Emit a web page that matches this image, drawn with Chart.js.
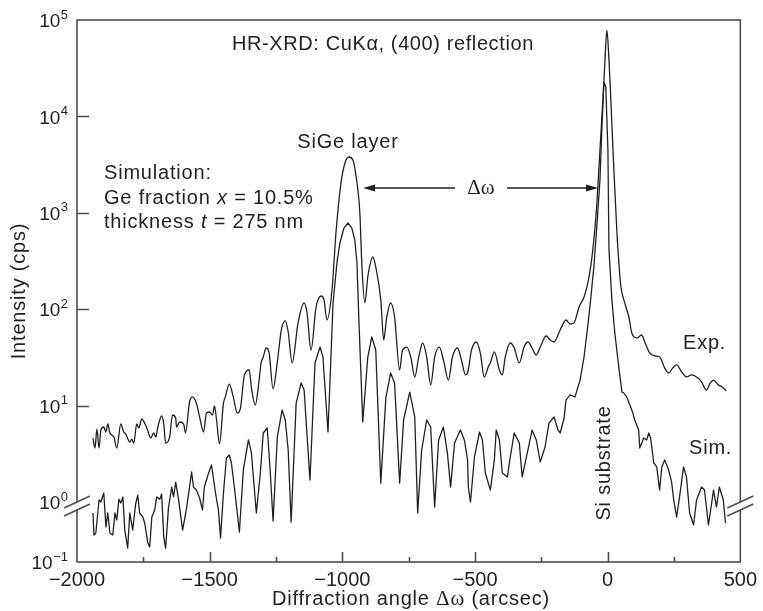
<!DOCTYPE html>
<html>
<head>
<meta charset="utf-8">
<script src="https://cdn.jsdelivr.net/npm/chart.js@4.4.1/dist/chart.umd.min.js"></script>
<style>
  html, body { margin: 0; padding: 0; background: #fff; }
</style>
</head>
<body>
<canvas id="xrdChart" width="763" height="611"></canvas>
<script>
// measured curve (Exp.) - angle in arcsec, intensity in cps
const expAngle = [-1940,-1932,-1925,-1917,-1910,-1899,-1891,-1884,-1876,-1861,-1850,-1835,-1824,-1816,-1801,-1794,-1786,-1775,-1767,-1756,
  -1737,-1722,-1711,-1703,-1696,-1681,-1673,-1666,-1651,-1640,-1628,-1625,-1613,-1598,-1591,-1576,-1565,-1550,-1538,-1523,
  -1512,-1501,-1489,-1482,-1474,-1463,-1448,-1441,-1426,-1411,-1396,-1384,-1369,-1351,-1343,-1328,-1317,-1306,-1298,-1287,
  -1276,-1261,-1245,-1230,-1215,-1204,-1189,-1167,-1144,-1133,-1118,-1099,-1080,-1069,-1058,-1039,-1024,-1005,-990,-975,
  -960,-949,-934,-926,-915,-904,-885,-874,-855,-844,-833,-818,-803,-784,-773,-757,-742,-727,-712,-697,
  -682,-667,-652,-634,-619,-600,-585,-566,-551,-536,-528,-513,-495,-480,-465,-450,-442,-427,-408,-397,
  -386,-367,-352,-333,-315,-300,-285,-269,-254,-232,-217,-202,-179,-157,-142,-127,-108,-89,-74,-63,
  -52,-41,-29,-18,-10,-3,5,12,23,35,42,50,61,80,91,110,128,140,158,177,
  196,215,230,245,260,279,297,316,335,354,372,387,399,417,432,447];
const expIntensity = [4.61,3.63,5.72,3.63,5.58,6.0,5.32,6.44,5.2,4.72,3.63,6.44,5.32,5.07,4.19,4.5,4.09,6.44,5.86,7.26,
  5.86,4.61,5.2,4.72,5.86,7.8,6.44,4.09,4.72,7.99,7.44,6.0,6.76,6.44,5.2,10.9,12.3,10.6,7.62,5.32,
  8.38,8.58,7.99,9.9,7.09,4.0,10.6,12.3,16.7,12.3,8.38,9.44,20.8,23.4,15.6,10.1,15.2,27.7,31.9,39.6,
  35.2,14.9,28.3,60.8,75.5,58,27.7,71.9,116,91.4,37.7,105,137,125,77.3,158,617,2040,3290,3790,
  3530,2470,995,274,116,216,348,274,125,47.9,81.1,116,83,23.4,37.7,40.5,31.9,19.8,31.9,44.6,
  31.9,16.4,31.9,40.5,29.7,18.4,31.9,39.6,29.7,20.8,21.8,37.7,45.7,35.2,19.8,25.1,27.7,36,23.4,20.8,
  31.9,44.6,39.6,27.7,40.5,45.7,39.6,33.5,40.5,52.7,47.9,45.7,60.8,77.3,70.2,71.9,105,134,191,288,
  522,1205,4480,14800,38500,78700,38500,14800,2990,617,309,170,125,83,56.6,50.3,54,45.7,35.2,32.7,
  31.9,24.5,21.8,24.5,26.4,22.3,19.8,20.8,19.8,17.6,14.5,17.2,18.4,16.4,15.6,14.2];

// simulated curve (Sim.)
const simAngle = [-1940,-1936,-1929,-1917,-1910,-1899,-1891,-1884,-1876,-1865,-1857,-1850,-1842,-1835,-1827,-1820,-1809,-1801,-1790,-1779,
  -1771,-1764,-1752,-1745,-1733,-1726,-1718,-1707,-1700,-1688,-1681,-1673,-1666,-1655,-1643,-1636,-1628,-1617,-1602,-1587,
  -1576,-1568,-1561,-1550,-1538,-1527,-1520,-1504,-1493,-1478,-1467,-1459,-1448,-1437,-1426,-1418,-1407,-1388,-1373,-1354,
  -1343,-1324,-1309,-1298,-1283,-1272,-1261,-1245,-1227,-1215,-1204,-1193,-1174,-1155,-1144,-1122,-1103,-1084,-1073,-1054,
  -1035,-1020,-1009,-994,-979,-964,-953,-945,-938,-923,-904,-889,-874,-855,-836,-818,-803,-784,-769,-746,-727,-716,-701,-682,
  -667,-652,-637,-619,-604,-592,-577,-555,-540,-528,-525,-517,-502,-483,-472,-461,-442,-427,-420,-408,
  -397,-378,-367,-352,-333,-322,-303,-285,-269,-254,-236,-221,-202,-187,-179,-164,-157,-142,-123,-104,
  -89,-78,-67,-52,-41,-29,-22,-14,-7,1,5,16,27,42,54,61,72,84,95,102,
  117,121,136,147,155,162,174,185,196,204,215,230,241,249,260,271,286,297,309,324,
  335,354,365,380,399,410,421,436,444];
const simIntensity = [0.656,0.282,0.304,1.05,1.0,1.24,0.383,0.656,0.304,0.282,0.656,0.501,1.07,0.962,1.13,0.341,0.171,0.656,0.341,0.926,
  1.18,0.656,0.562,0.447,0.207,0.178,0.562,0.736,1.13,1.07,1.21,0.261,0.171,0.825,1.43,1.13,1.61,1.05,0.341,0.794,
  1.43,2.05,1.43,1.33,1.10,0.736,1.43,2.0,2.42,1.24,0.736,0.251,1.24,2.86,3.07,2.54,1.43,0.316,2.15,4.4,
  3.3,0.656,2.0,5.2,5.86,2.15,0.482,4.72,9.0,7.09,3.46,0.464,10.6,17.2,14.5,1.69,27.7,40.5,31.9,5.32,
  116,309,486,695,784,695,522,309,83,6.76,31.9,51.5,37.7,1.57,12.0,21.8,17.2,1.57,7.09,13.8,7.62,0.656,3.46,7.09,
  6.0,0.825,4.4,6.0,3.22,1.43,4.09,5.58,4.4,2.73,1.43,1.0,2.93,5.32,4.4,2.0,1.33,2.73,5.58,4.4,
  2.0,1.82,2.93,5.2,4.09,1.82,3.22,5.58,4.4,2.6,3.72,6.6,7.62,5.58,5.2,7.44,11.4,12.9,12.3,18.4,
  31.9,56.6,105,274,713,2190,7230,22700,20200,4480,411,125,56.6,25.1,13.8,13.5,12.3,10.1,8.38,7.09,
  5.58,3.63,4.61,4.4,5.2,4.61,2.54,2.31,1.33,2.31,2.73,2.15,1.61,1.05,0.562,1.13,2.31,1.82,0.656,0.414,
  1.05,1.43,1.33,0.414,1.33,0.825,1.43,1.05,0.447];

const xTicks = [-2000, -1500, -1000, -500, 0, 500];
const yTicks = [0.1, 1, 10, 100, 1000, 10000, 100000];

const INK = "#231f20";
const FRAME = "#4d4d4d";
const SANS = "'Liberation Sans', Arial, sans-serif";
const SERIF = "'Liberation Serif', 'Times New Roman', serif";

// log axis with the 0.1..1 decade squeezed below a break
class BrokenLogScale extends Chart.LogarithmicScale {
  getPixelForValue(value) {
    const v = value === undefined || value <= 0 ? this.min : value;
    const lg = Math.log10(v);
    const b = this.options.breakFraction;
    const dec = lg >= 0
      ? b + (1 - b) * lg / Math.log10(this.max)
      : b * (1 - lg / Math.log10(this.min));
    return this.getPixelForDecimal(dec);
  }
  getValueForPixel(pixel) {
    const dec = this.getDecimalForPixel(pixel);
    const b = this.options.breakFraction;
    const lg = dec >= b
      ? (dec - b) / (1 - b) * Math.log10(this.max)
      : (1 - dec / b) * Math.log10(this.min);
    return Math.pow(10, lg);
  }
}
BrokenLogScale.id = "brokenLog";
BrokenLogScale.defaults = Chart.LogarithmicScale.defaults;
Chart.register(BrokenLogScale);

function toPoints(xs, ys) {
  return xs.map((a, i) => ({ x: a, y: ys[i] }));
}

// draws text piece by piece (needed for italic / serif parts)
function drawRuns(ctx, runs, x, y, align) {
  let total = 0;
  runs.forEach(r => { ctx.font = r.font; total += ctx.measureText(r.text).width; });
  let cx = align === "center" ? x - total / 2 : x;
  ctx.textAlign = "left";
  runs.forEach(r => {
    ctx.font = r.font;
    ctx.fillText(r.text, cx, y);
    cx += ctx.measureText(r.text).width;
  });
}

const decorations = {
  id: "decorations",
  afterDraw(chart) {
    const { ctx, chartArea: a, scales: { x, y } } = chart;
    ctx.save();

    // frame + inward ticks
    ctx.strokeStyle = FRAME;
    ctx.lineWidth = 1.6;
    ctx.strokeRect(a.left, a.top, a.right - a.left, a.bottom - a.top);
    ctx.beginPath();
    for (let v = -1750; v < 500; v += 250) {
      const px = Math.round(x.getPixelForValue(v)) + 0.5;
      const len = v % 500 === 0 ? 10 : 5;
      ctx.moveTo(px, a.bottom);
      ctx.lineTo(px, a.bottom - len);
    }
    yTicks.slice(2, 6).forEach(v => {
      const py = Math.round(y.getPixelForValue(v)) + 0.5;
      ctx.moveTo(a.left, py);
      ctx.lineTo(a.left + 12, py);
    });
    ctx.stroke();

    // axis break marks at 10^0
    const by = y.getPixelForValue(1) + 4;
    [a.left, a.right].forEach(bx => {
      const dx = 13, dy = 6, g = 4;
      ctx.fillStyle = "#fff";
      ctx.beginPath();
      ctx.moveTo(bx - dx, by + dy - g);
      ctx.lineTo(bx + dx, by - dy - g);
      ctx.lineTo(bx + dx, by - dy + g);
      ctx.lineTo(bx - dx, by + dy + g);
      ctx.closePath();
      ctx.fill();
      ctx.beginPath();
      ctx.moveTo(bx - dx, by + dy - g);
      ctx.lineTo(bx + dx, by - dy - g);
      ctx.moveTo(bx - dx, by + dy + g);
      ctx.lineTo(bx + dx, by - dy + g);
      ctx.lineWidth = 1.4;
      ctx.stroke();
    });

    // y tick labels 10^n
    ctx.fillStyle = INK;
    ctx.textBaseline = "middle";
    yTicks.forEach(v => {
      const py = y.getPixelForValue(v);
      const ex = String(Math.round(Math.log10(v))).replace("-", "\u2212");
      ctx.textAlign = "right";
      ctx.font = "13px " + SANS;
      ctx.fillText(ex, 68, py - 5);
      const w = ctx.measureText(ex).width;
      ctx.font = "19px " + SANS;
      ctx.fillText("10", 67.5 - w, py + 2);
    });

    // annotations
    ctx.letterSpacing = "0.6px";
    const f = "20px " + SANS;
    const fi = "italic 20px " + SANS;
    ctx.textAlign = "left";
    ctx.font = f;
    ctx.fillText("HR-XRD: CuK\u03b1, (400) reflection", 232, 44);
    ctx.letterSpacing = "0.8px";
    ctx.textAlign = "center";
    ctx.fillText("SiGe layer", 348, 142);
    ctx.textAlign = "left";
    ctx.fillText("Simulation:", 104, 173);
    drawRuns(ctx, [{ text: "Ge fraction ", font: f }, { text: "x", font: fi }, { text: " = 10.5%", font: f }], 104, 198);
    drawRuns(ctx, [{ text: "thickness ", font: f }, { text: "t", font: fi }, { text: " = 275 nm", font: f }], 104, 222);
    ctx.font = f;
    ctx.fillText("Exp.", 683, 343);
    ctx.fillText("Sim.", 689, 448);

    ctx.save();
    ctx.translate(604, 463);
    ctx.rotate(-Math.PI / 2);
    ctx.textAlign = "center";
    ctx.fillText("Si substrate", 0, 0);
    ctx.restore();

    // axis titles
    ctx.save();
    ctx.translate(19, 291);
    ctx.rotate(-Math.PI / 2);
    ctx.textAlign = "center";
    ctx.font = f;
    ctx.fillText("Intensity (cps)", 0, 0);
    ctx.restore();
    drawRuns(ctx, [
      { text: "Diffraction angle ", font: f },
      { text: "\u0394\u03c9", font: "21px " + SERIF },
      { text: " (arcsec)", font: f }
    ], 411, 599, "center");

    // delta-omega arrow between the two peaks
    const ay = 188;
    ctx.strokeStyle = INK;
    ctx.lineWidth = 1.3;
    ctx.beginPath();
    ctx.moveTo(372, ay); ctx.lineTo(455, ay);
    ctx.moveTo(507, ay); ctx.lineTo(589, ay);
    ctx.stroke();
    ctx.fillStyle = INK;
    ctx.beginPath();
    ctx.moveTo(363, ay); ctx.lineTo(375, ay - 3.5); ctx.lineTo(375, ay + 3.5); ctx.closePath();
    ctx.moveTo(598, ay); ctx.lineTo(586, ay - 3.5); ctx.lineTo(586, ay + 3.5); ctx.closePath();
    ctx.fill();
    ctx.letterSpacing = "0px";
    ctx.textAlign = "center";
    ctx.font = "21px " + SERIF;
    ctx.fillText("\u0394\u03c9", 481, ay);

    ctx.restore();
  }
};

const lineStyle = {
  borderColor: INK,
  borderWidth: 1.3,
  pointRadius: 0,
  borderJoinStyle: "round",
  fill: false
};

new Chart(document.getElementById("xrdChart"), {
  type: "line",
  data: {
    datasets: [
      { label: "Exp.", data: toPoints(expAngle, expIntensity), cubicInterpolationMode: "monotone", ...lineStyle },
      { label: "Sim.", data: toPoints(simAngle, simIntensity), tension: 0, ...lineStyle }
    ]
  },
  options: {
    responsive: false,
    animation: false,
    events: [],
    layout: { padding: { top: 20, right: 19, left: 0, bottom: 0 } },
    plugins: { legend: { display: false }, tooltip: { enabled: false } },
    scales: {
      x: {
        type: "linear",
        min: -2000,
        max: 500,
        grid: { display: false, drawTicks: false },
        border: { display: false },
        afterBuildTicks: s => { s.ticks = xTicks.map(v => ({ value: v })); },
        ticks: {
          autoSkip: false,
          maxRotation: 0,
          padding: 6,
          color: INK,
          font: { family: SANS, size: 20 },
          callback: v => (v < 0 ? "\u2212" + Math.abs(v) : String(v))
        },
        afterFit: s => { s.height = 49; }
      },
      y: {
        type: "brokenLog",
        min: 0.1,
        max: 100000,
        breakFraction: 60 / 542,
        grid: { display: false, drawTicks: false },
        border: { display: false },
        ticks: { display: false },
        afterBuildTicks: s => { s.ticks = yTicks.map(v => ({ value: v })); },
        afterFit: s => { s.width = 77; }
      }
    }
  },
  plugins: [decorations]
});
</script>
</body>
</html>
